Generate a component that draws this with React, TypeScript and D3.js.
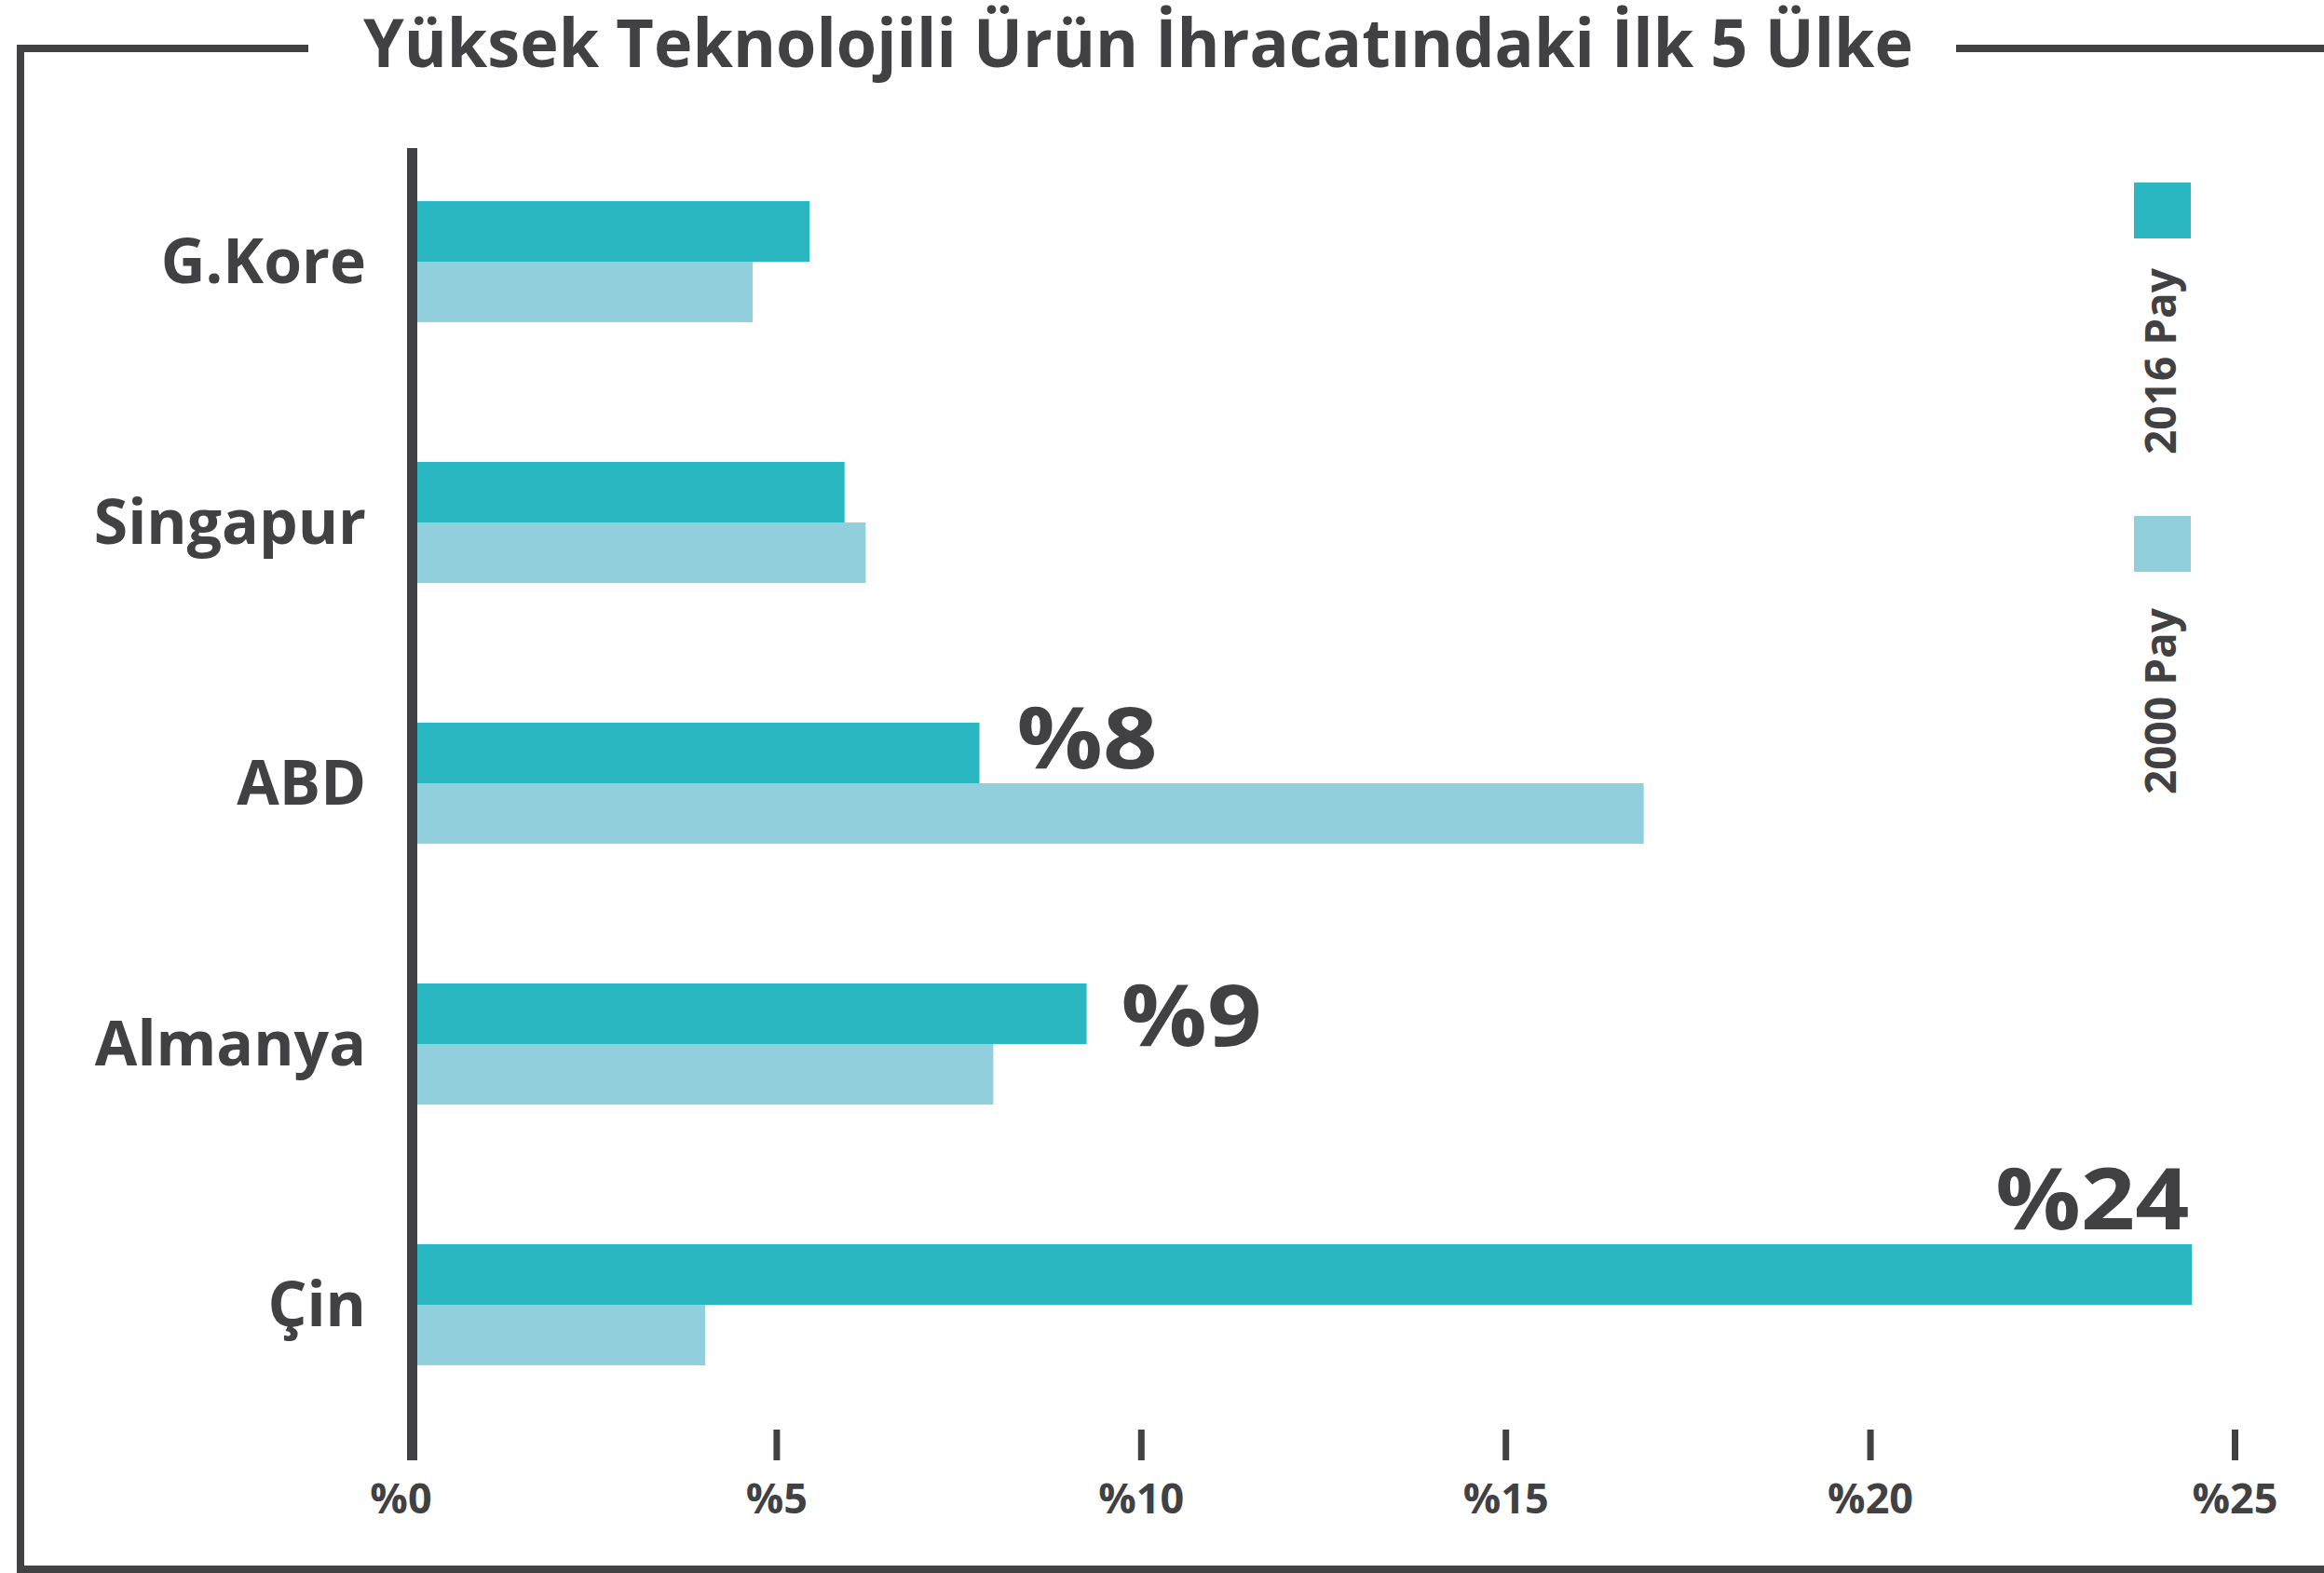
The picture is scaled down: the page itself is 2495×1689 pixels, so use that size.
import React from 'react';
import * as d3 from 'd3';

const title = 'Yüksek Teknolojili Ürün İhracatındaki İlk 5 Ülke';
const countries = ['G.Kore', 'Singapur', 'ABD', 'Almanya', 'Çin'];
const share2016 = [5.45, 5.93, 7.78, 9.25, 24.41];
const share2000 = [4.67, 6.22, 16.89, 7.97, 4.02];
const seriesKeys = ['2016', '2000'];
const seriesNames = ['2016 Pay', '2000 Pay'];
const xTicks = [0, 5, 10, 15, 20, 25];
const tickLabels = ['%0', '%5', '%10', '%15', '%20', '%25'];
const highlighted = ['ABD', 'Almanya', 'Çin'];

const W = 2495;
const H = 1689;
const DARK = '#414143';
const TEAL = '#2BB7C1';
const LIGHT = '#92CFDD';
const FONT = "'Open Sans', 'Noto Sans', sans-serif";

export default function App() {
  const x = d3.scaleLinear().domain([0, 25]).range([442.5, 2399.5]);
  const y = d3
    .scaleBand<string>()
    .domain(countries)
    .range([141, 1541])
    .paddingInner(150 / 280)
    .paddingOuter(75 / 280);
  const ySub = d3.scaleBand<string>().domain(seriesKeys).range([0, y.bandwidth()]);
  const color = d3.scaleOrdinal<string, string>().domain(seriesKeys).range([TEAL, LIGHT]);
  const values: Record<string, number[]> = { '2016': share2016, '2000': share2000 };

  const axisTop = 159;
  const axisBottom = 1568;
  const tickTop = 1535;

  // annotation placement (style only)
  const annotationStyle: Record<string, { dx: number; dy: number; anchor: string }> = {
    ABD: { dx: 40, dy: -16, anchor: 'start' },
    Almanya: { dx: 37, dy: 2, anchor: 'start' },
    'Çin': { dx: -3, dy: -81, anchor: 'end' },
  };

  const legendSquares = [
    { y: 196, textMid: 388 },
    { y: 554, textMid: 753 },
  ];

  return (
    <svg
      width={W}
      height={H}
      viewBox={`0 0 ${W} ${H}`}
      style={{ position: 'absolute', left: 0, top: 0, background: '#fff' }}
      fontFamily={FONT}
    >
      <rect x={0} y={0} width={W} height={H} fill="#fff" />
      {/* frame */}
      <path d={`M331,52 H22 V1685 H${W}`} fill="none" stroke={DARK} strokeWidth={8} />
      <path d={`M2100,52 H${W}`} fill="none" stroke={DARK} strokeWidth={8} />
      {/* title */}
      <text
        x={390}
        y={72}
        fontSize={72}
        fontWeight={700}
        fill={DARK}
        textLength={1664}
        lengthAdjust="spacingAndGlyphs"
      >
        {title}
      </text>

      {/* bars */}
      {seriesKeys.map((k) =>
        countries.map((c, i) => (
          <rect
            key={k + c}
            x={x(0)}
            y={(y(c) ?? 0) + (ySub(k) ?? 0)}
            width={x(values[k][i]) - x(0)}
            height={ySub.bandwidth()}
            fill={color(k)}
          />
        ))
      )}

      {/* y axis line */}
      <line x1={x(0)} x2={x(0)} y1={axisTop} y2={axisBottom} stroke={DARK} strokeWidth={11} />

      {/* x ticks */}
      {xTicks.map((t, i) => (
        <g key={t}>
          {i > 0 && (
            <line x1={x(t)} x2={x(t)} y1={tickTop} y2={axisBottom} stroke={DARK} strokeWidth={7} />
          )}
          <text
            x={x(t) + (i === 0 ? -12 : 0)}
            y={1625}
            textAnchor="middle"
            fontSize={45}
            fontWeight={700}
            fill={DARK}
          >
            {tickLabels[i]}
          </text>
        </g>
      ))}

      {/* category labels */}
      {countries.map((c) => (
        <text
          key={c}
          x={393}
          y={(y(c) ?? 0) + y.bandwidth() / 2}
          dy={23}
          textAnchor="end"
          fontSize={66}
          fontWeight={700}
          fill={DARK}
        >
          {c}
        </text>
      ))}

      {/* annotations */}
      {highlighted.map((c) => {
        const i = countries.indexOf(c);
        const v = share2016[i];
        const s = annotationStyle[c];
        const label = `%${Math.round(v)}`;
        const barTop = (y(c) ?? 0) + (ySub('2016') ?? 0);
        const barBottom = barTop + ySub.bandwidth();
        return (
          <text
            key={c}
            x={x(v) + s.dx}
            y={barBottom + s.dy}
            textAnchor={s.anchor}
            fontSize={92}
            fontWeight={700}
            fill={DARK}
            textLength={94 + 57 * (label.length - 1)}
            lengthAdjust="spacingAndGlyphs"
          >
            {label}
          </text>
        );
      })}

      {/* legend */}
      {seriesKeys.map((k, i) => (
        <g key={k}>
          <rect x={2291} y={legendSquares[i].y} width={61} height={60} fill={color(k)} />
          <text
            transform={`translate(2336,${legendSquares[i].textMid}) rotate(-90)`}
            textAnchor="middle"
            fontSize={46}
            fontWeight={700}
            fill={DARK}
          >
            {seriesNames[i]}
          </text>
        </g>
      ))}
    </svg>
  );
}
